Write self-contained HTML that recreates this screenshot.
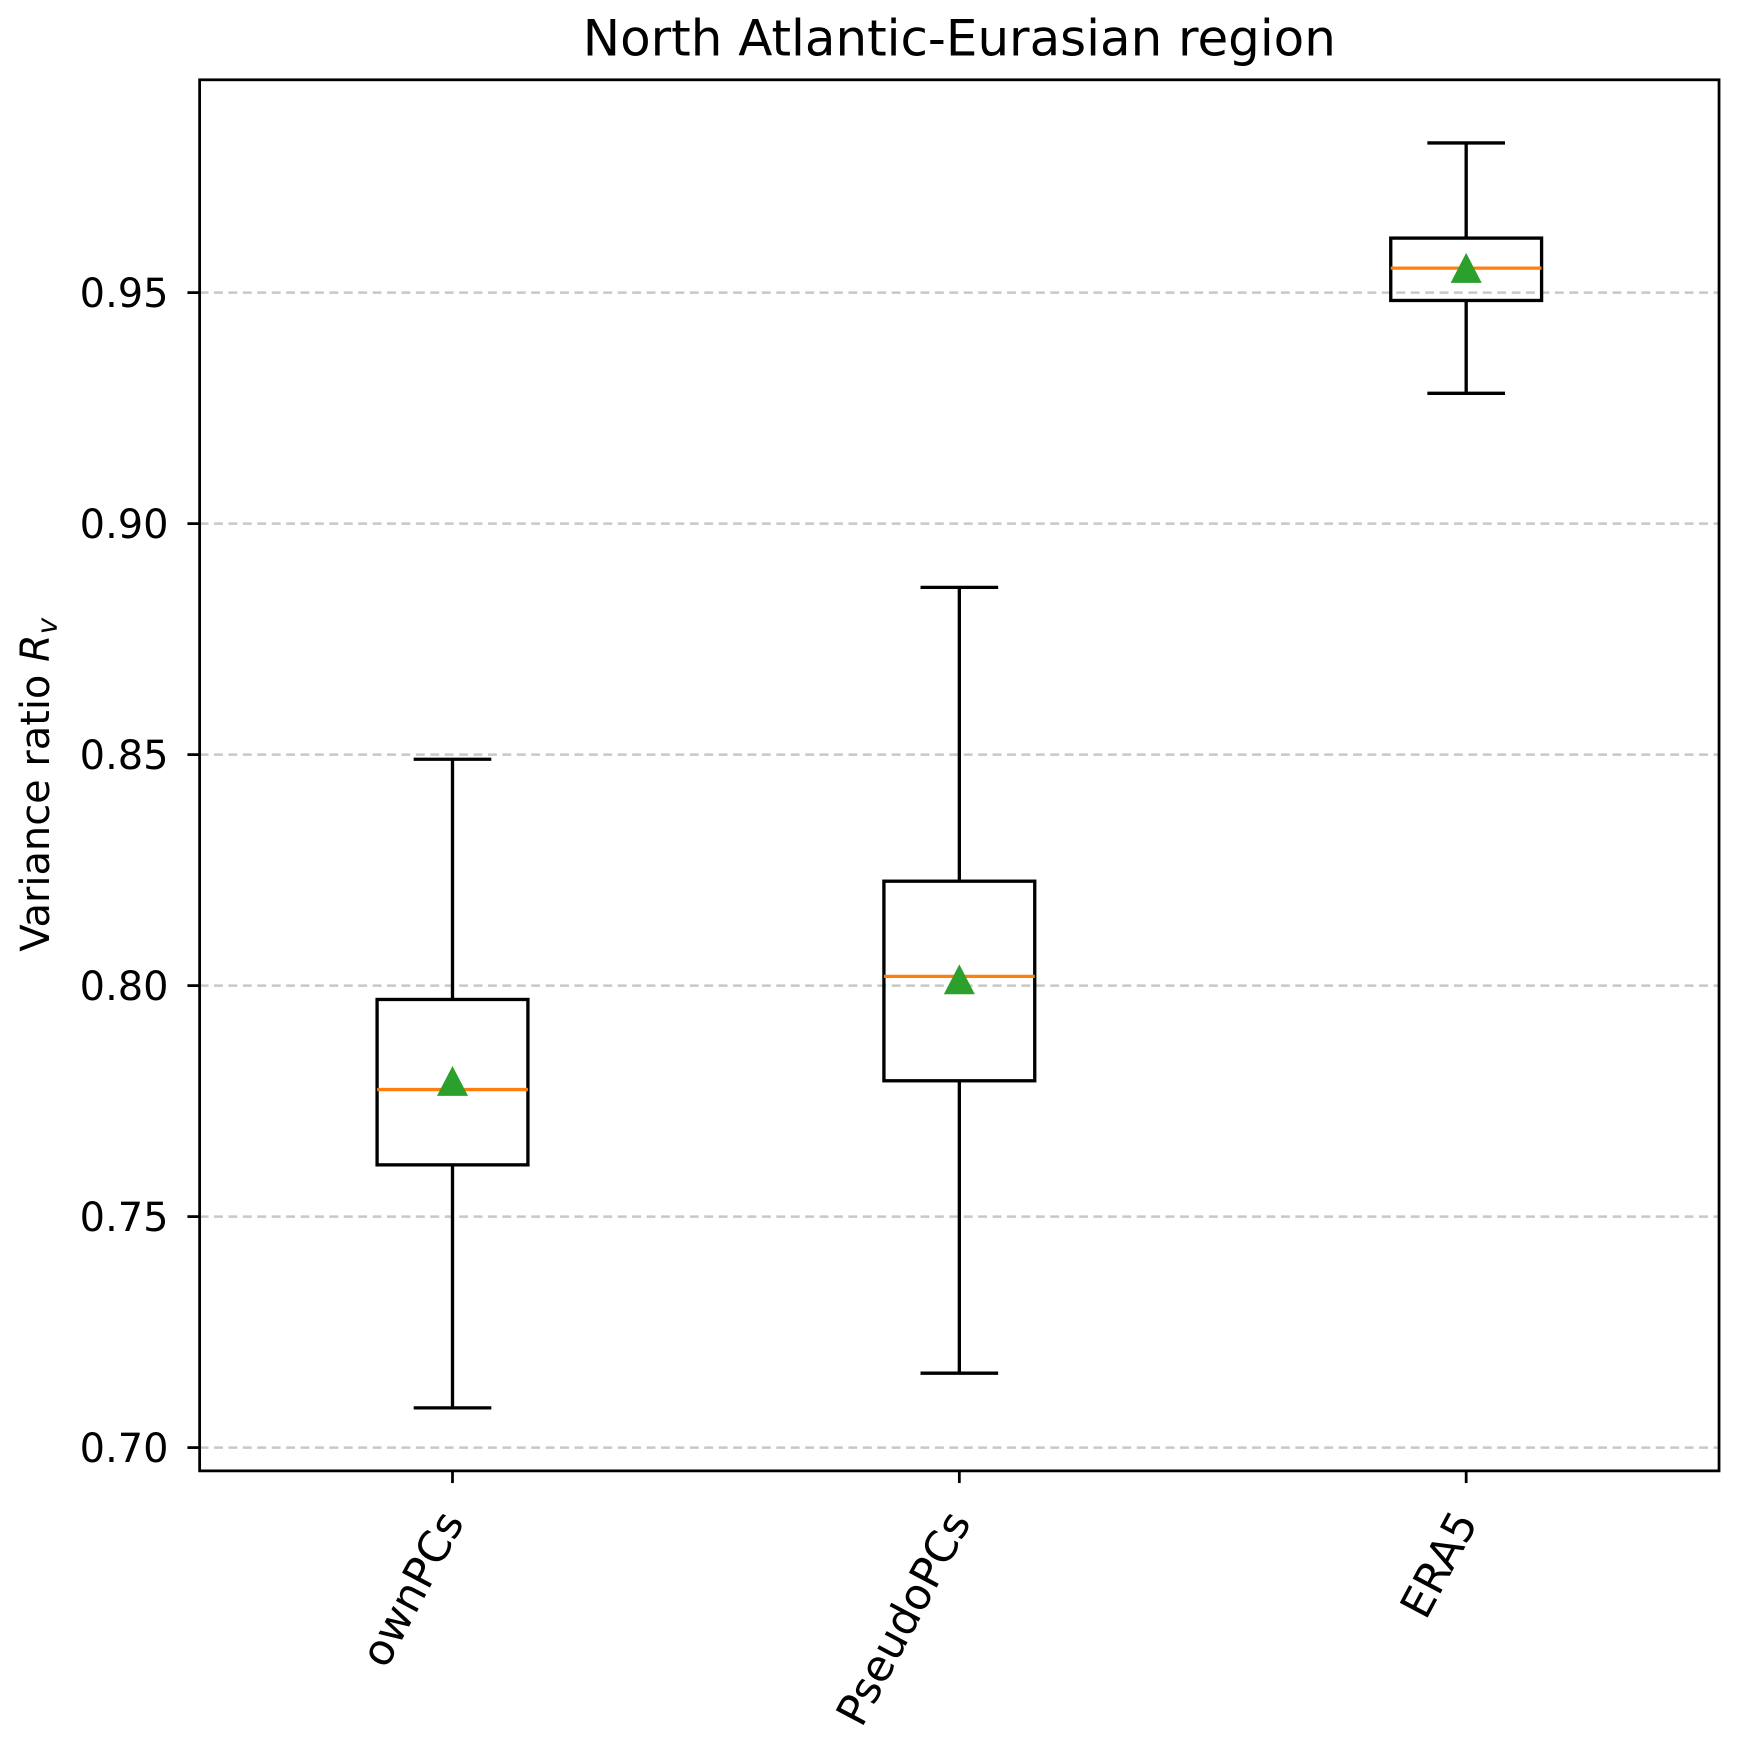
<!DOCTYPE html>
<html><head><meta charset="utf-8"><style>
html,body{margin:0;padding:0;background:#fff}
svg{display:block}
text{font-family:"DejaVu Sans","Liberation Sans",sans-serif;fill:#000}
</style></head><body>
<svg id="chart" width="1739" height="1738" viewBox="0 0 1568 1568" preserveAspectRatio="none">
<text x="865" y="50" font-size="45" text-anchor="middle">North Atlantic-Eurasian region</text>
<g id="grid"></g>
<g id="boxes"></g>
<g id="yaxis"></g>
<g id="xaxis"></g>
<rect x="180" y="72" width="1370" height="1255" fill="none" stroke="#000" stroke-width="2.5"/>
<text transform="translate(44,708) rotate(-90)" font-size="36" text-anchor="middle">Variance ratio <tspan font-style="italic">R</tspan><tspan font-style="italic" font-size="25" dy="7">v</tspan></text>
</svg>
<script>
const categories = ["ownPCs", "PseudoPCs", "ERA5"];
const whiskerLow = [0.7086, 0.7161, 0.9282];
const q1 = [0.7612, 0.7794, 0.9483];
const medians = [0.7775, 0.802, 0.9553];
const means = [0.779, 0.801, 0.955];
const q3 = [0.797, 0.8226, 0.9618];
const whiskerHigh = [0.849, 0.8862, 0.9824];
const yTicks = [0.70, 0.75, 0.80, 0.85, 0.90, 0.95];
const yTickLabels = ["0.70", "0.75", "0.80", "0.85", "0.90", "0.95"];

const NS = "http://www.w3.org/2000/svg";
const y = v => 1306 - (v - 0.70) / 0.05 * 208.4;
const x = i => 408 + i * 457;
function mk(tag, attrs, parent){const e=document.createElementNS(NS,tag);for(const k in attrs)e.setAttribute(k,attrs[k]);parent.appendChild(e);return e;}
const grid=document.getElementById('grid'), boxes=document.getElementById('boxes'), ya=document.getElementById('yaxis'), xa=document.getElementById('xaxis');

yTicks.forEach((t,i)=>{
  const g=mk('line',{x1:180,x2:1550,y1:y(t),y2:y(t),stroke:'#b0b0b0','stroke-width':2.2,'stroke-dasharray':'8,5','stroke-opacity':0.7},grid);
  
  
  const tk=mk('line',{x1:169,x2:180,y1:y(t),y2:y(t),stroke:'#000','stroke-width':2.5},ya);
  
  
  const lb=mk('text',{x:152,y:y(t)+13,'font-size':36,'text-anchor':'end'},ya);
  lb.textContent=yTickLabels[i];
  
  
});

categories.forEach((c,i)=>{
  const cx=x(i);
  const g=mk('g',{},boxes);
  
  
  mk('line',{x1:cx,x2:cx,y1:y(whiskerLow[i]),y2:y(q1[i]),stroke:'#000','stroke-width':3},g);
  mk('line',{x1:cx,x2:cx,y1:y(q3[i]),y2:y(whiskerHigh[i]),stroke:'#000','stroke-width':3},g);
  mk('line',{x1:cx-35,x2:cx+35,y1:y(whiskerLow[i]),y2:y(whiskerLow[i]),stroke:'#000','stroke-width':3},g);
  mk('line',{x1:cx-35,x2:cx+35,y1:y(whiskerHigh[i]),y2:y(whiskerHigh[i]),stroke:'#000','stroke-width':3},g);
  mk('rect',{x:cx-68,y:y(q3[i]),width:136,height:y(q1[i])-y(q3[i]),fill:'none',stroke:'#000','stroke-width':3},g);
  mk('line',{x1:cx-68,x2:cx+68,y1:y(medians[i]),y2:y(medians[i]),stroke:'#ff7f0e','stroke-width':3},g);
  const my=y(means[i]);
  const tri=mk('polygon',{points:`${cx},${my-15} ${cx-14},${my+12} ${cx+14},${my+12}`,fill:'#2ca02c'},g);
  
  
  const tk=mk('line',{x1:cx,x2:cx,y1:1327,y2:1338,stroke:'#000','stroke-width':2.5},xa);
  
  
  const lb=mk('text',{transform:`translate(${cx+2},${1368}) rotate(-62)`,'font-size':39,'text-anchor':'end','dominant-baseline':'middle'},xa);
  lb.textContent=c;
  
  
});
</script>
</body></html>
